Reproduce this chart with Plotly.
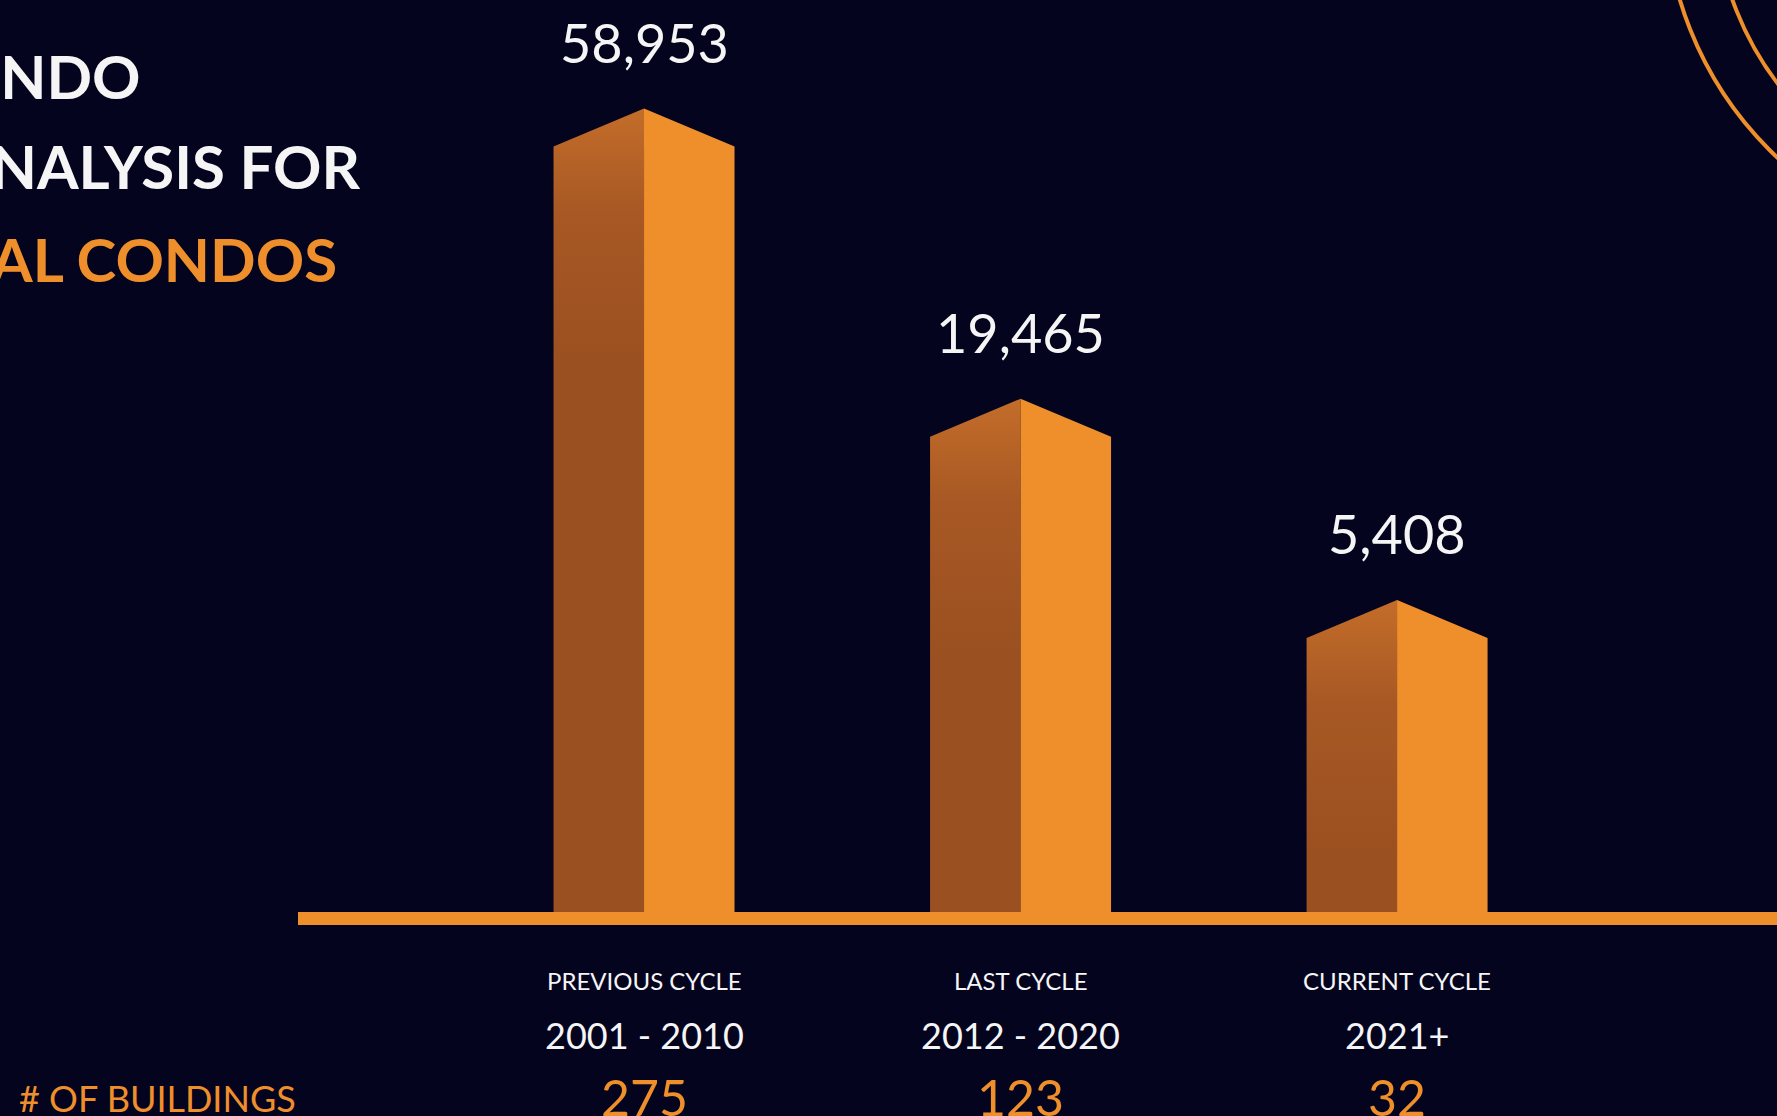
import plotly.graph_objects as go

# ---------------- data ----------------
categories = ["PREVIOUS CYCLE", "LAST CYCLE", "CURRENT CYCLE"]
years = ["2001 - 2010", "2012 - 2020", "2021+"]
units = [58953, 19465, 5408]
buildings = [275, 123, 32]
title_lines = ["CONDO", "ANALYSIS FOR", "AL CONDOS"]
buildings_label = "# OF BUILDINGS"

# ---------------- style / layout ----------------
W, H = 1777, 1116
BG = "#05041f"
ORANGE = "#ef8f2b"
RIGHT_FACE = "#ee8f2b"
LEFT_SCALE = [[0, "#9b5021"], [0.6, "#a8582423"], [1, "#c46d2a"]]
LEFT_SCALE = [[0, "#9b5021"], [0.6, "#a75824"], [1, "#c46d2a"]]
WHITE = "#f5f5f5"
FONT = "Lato"

PL = 298            # left edge of plot area (px)
PB = 204            # bottom margin (px)
plot_w = W - PL
plot_h = H - PB     # 912
X_MIN, X_MAX = -0.919, 3.009
POW = 0.43          # the infographic's bars follow a compressed (power) scale
Y_MAX = 134.1
px_x = plot_w / (X_MAX - X_MIN)
px_y = plot_h / Y_MAX
HALF = 90.5 / px_x
ROOF = 38 / px_y
SHADE = 260 / px_y  # length of the light-to-dark shading on the left faces


def paper_x(px):
    return (px - PL) / plot_w


def paper_y(py):
    return (plot_h - py) / plot_h


heights = [v ** POW for v in units]
xs = list(range(len(categories)))

fig = go.Figure()

for i, h in zip(xs, heights):
    xl, xm, xr = i - HALF, i, i + HALF
    top = h + ROOF
    fig.add_trace(go.Scatter(
        x=[xl, xl, xm, xm, xl], y=[0, h, top, 0, 0],
        fill="toself", mode="lines", line=dict(width=0),
        fillcolor="#a5561f",
        fillgradient=dict(type="vertical", colorscale=LEFT_SCALE,
                          start=max(top - SHADE, 0), stop=top),
        hoverinfo="skip", showlegend=False))
    fig.add_trace(go.Scatter(
        x=[xm, xm, xr, xr, xm], y=[0, top, h, 0, 0],
        fill="toself", mode="lines", line=dict(width=0),
        fillcolor=RIGHT_FACE, hoverinfo="skip", showlegend=False))

annotations = []
# value labels above each bar
for i, h, v in zip(xs, heights, units):
    annotations.append(dict(
        x=i, y=h + ROOF, xref="x", yref="y", text=f"{v:,}",
        showarrow=False, yanchor="bottom", yshift=32,
        font=dict(family=FONT, size=54, color=WHITE)))

# category rows under the baseline
for i, c, yr, b in zip(xs, categories, years, buildings):
    annotations.append(dict(
        x=i, y=paper_y(981), xref="x", yref="paper", text=c,
        showarrow=False, yanchor="middle",
        font=dict(family=FONT, size=24, color=WHITE)))
    annotations.append(dict(
        x=i, y=paper_y(1035), xref="x", yref="paper", text=yr,
        showarrow=False, yanchor="middle",
        font=dict(family=FONT, size=36, color=WHITE)))
    annotations.append(dict(
        x=i, y=paper_y(1097), xref="x", yref="paper", text=str(b),
        showarrow=False, yanchor="middle",
        font=dict(family=FONT, size=50, color=ORANGE)))

annotations.append(dict(
    x=paper_x(17), y=paper_y(1098), xref="paper", yref="paper",
    text=buildings_label, showarrow=False, xanchor="left", yanchor="middle",
    font=dict(family=FONT, size=36, color=ORANGE)))

# title block (partly off the left edge)
title_right = [143, 363, 339]
title_y = [76, 166, 259]
title_col = [WHITE, WHITE, ORANGE]
for t, rx, cy, col in zip(title_lines, title_right, title_y, title_col):
    annotations.append(dict(
        x=paper_x(rx), y=paper_y(cy), xref="paper", yref="paper", text=t,
        showarrow=False, xanchor="right", yanchor="middle",
        font=dict(family=FONT, size=60, color=col, weight=700)))

shapes = [
    # baseline
    dict(type="rect", xref="paper", yref="paper", x0=0, x1=1,
         y0=-13 / plot_h, y1=0, fillcolor=ORANGE, line=dict(width=0),
         layer="above"),
]
# decorative arcs (top-right)
cx, cy = 2021, -102
for r in (356, 306):
    shapes.append(dict(
        type="circle", xref="paper", yref="paper",
        x0=paper_x(cx - r), x1=paper_x(cx + r),
        y0=paper_y(cy + r), y1=paper_y(cy - r),
        line=dict(color=ORANGE, width=4), fillcolor="rgba(0,0,0,0)"))

fig.update_layout(
    width=W, height=H,
    margin=dict(l=PL, r=0, t=0, b=PB, pad=0),
    paper_bgcolor=BG, plot_bgcolor=BG,
    xaxis=dict(range=[X_MIN, X_MAX], visible=False, fixedrange=True),
    yaxis=dict(range=[0, Y_MAX], visible=False, fixedrange=True),
    showlegend=False,
    annotations=annotations,
    shapes=shapes,
    font=dict(family=FONT),
)

fig.write_html(
    "out.html",
    config={"displayModeBar": False},
    post_script="document.body.style.margin='0';document.body.style.overflow='hidden';",
)
